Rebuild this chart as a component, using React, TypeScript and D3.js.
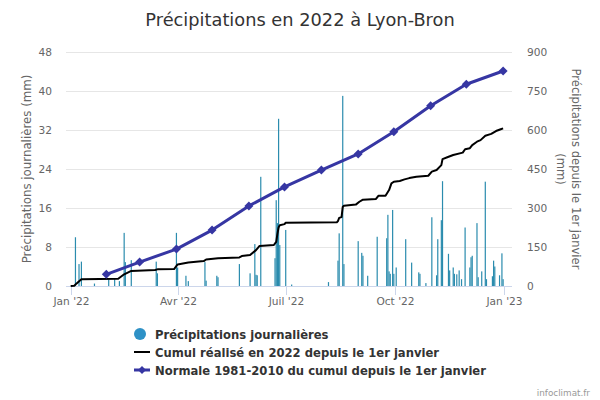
import React from "react";
import * as d3 from "d3";

// ---------- DATA ----------
const dailyDates = [
  "2022-01-05","2022-01-08","2022-01-10","2022-01-21","2022-02-02","2022-02-07","2022-02-11","2022-02-15","2022-02-16","2022-02-21",
  "2022-03-14","2022-03-15","2022-03-31","2022-04-01","2022-04-08","2022-04-10","2022-04-24","2022-04-25","2022-05-04","2022-05-05",
  "2022-05-23","2022-06-01","2022-06-05","2022-06-06","2022-06-07","2022-06-10","2022-06-22","2022-06-23","2022-06-24","2022-06-25",
  "2022-06-26","2022-07-01","2022-07-06","2022-08-06","2022-08-14","2022-08-15","2022-08-18","2022-08-19","2022-08-31","2022-09-03",
  "2022-09-04","2022-09-08","2022-09-16","2022-09-24","2022-09-25","2022-09-26","2022-09-27","2022-09-29","2022-09-30","2022-10-02",
  "2022-10-10","2022-10-15","2022-10-21","2022-10-22","2022-10-27","2022-11-01","2022-11-05","2022-11-06","2022-11-09","2022-11-10",
  "2022-11-15","2022-11-16","2022-11-19","2022-11-20","2022-11-22","2022-11-24","2022-11-26","2022-11-29","2022-12-03","2022-12-04",
  "2022-12-05","2022-12-09","2022-12-10","2022-12-13","2022-12-16","2022-12-17","2022-12-22","2022-12-23","2022-12-24","2022-12-28",
  "2022-12-30","2022-12-31",
];
const dailyValues = [
  10.0,4.5,5.0,0.5,1.4,1.4,1.0,10.9,4.9,5.3,
  5.0,2.6,10.9,3.8,2.1,1.0,4.9,1.1,2.1,1.8,
  4.5,2.6,8.6,2.3,2.2,22.4,5.7,17.6,12.9,34.3,
  8.4,11.5,0.3,0.8,5.2,10.8,39.0,4.5,9.2,6.8,
  6.2,2.1,10.1,9.8,14.6,3.0,2.5,15.6,2.5,3.8,
  9.6,4.8,2.8,2.5,0.6,14.1,2.2,9.6,13.5,21.5,
  6.6,3.2,3.8,2.5,2.4,3.2,1.4,12.0,3.8,5.9,
  6.2,12.9,1.8,3.0,21.4,1.4,2.0,5.2,4.0,2.2,
  6.7,1.4,
];

const cumulDates = [
  "2022-01-01","2022-01-04","2022-01-06","2022-01-10","2022-02-10","2022-02-15","2022-02-21","2022-03-13","2022-03-15","2022-03-29",
  "2022-04-01","2022-04-10","2022-04-23","2022-04-25","2022-05-05","2022-05-23","2022-05-25","2022-06-01","2022-06-06","2022-06-09",
  "2022-06-21","2022-06-23","2022-06-24","2022-06-25","2022-06-26","2022-06-30","2022-07-01","2022-08-13","2022-08-14","2022-08-15",
  "2022-08-17","2022-08-18","2022-08-19","2022-08-29","2022-09-01","2022-09-04","2022-09-15","2022-09-17","2022-09-23","2022-09-26",
  "2022-09-28","2022-09-30","2022-10-05","2022-10-09","2022-10-13","2022-10-19","2022-10-29","2022-11-01","2022-11-05","2022-11-09",
  "2022-11-10","2022-11-14","2022-11-19","2022-11-27","2022-11-29","2022-12-03","2022-12-05","2022-12-09","2022-12-12","2022-12-16",
  "2022-12-21","2022-12-25","2022-12-29","2022-12-31",
];
const cumulValues = [
  0,1,10,26,28,45,58,61.5,64,65,
  83,90,96,102,106.5,110,115,119,138,154,
  157.7,170,200,225,234,238,243.5,245,250,262,
  265,304,309,313,324,332,335,347,347,369,
  395,401,404,410,415,420,424,440,446,465,
  488,495,504,513,526,530,542,555,561,578,
  585,596,603,606.5,
];

const normalDates = [
  "2022-01-31","2022-02-28","2022-03-31","2022-04-30","2022-05-31","2022-06-30",
  "2022-07-31","2022-08-31","2022-09-30","2022-10-31","2022-11-30","2022-12-31",
];
const normalValues = [45, 92, 142, 215, 308, 381, 446, 508, 593, 693, 776, 827];

const leftTicks = [0, 8, 16, 24, 32, 40, 48];
const rightTicks = [0, 150, 300, 450, 600, 750, 900];
const xTickDates = ["2022-01-01", "2022-04-01", "2022-07-01", "2022-10-01", "2023-01-01"];
const xTickLabels = ["Jan '22", "Avr '22", "Juil '22", "Oct '22", "Jan '23"];

const titleText = "Précipitations en 2022 à Lyon-Bron";
const leftAxisTitle = "Précipitations journalières (mm)";
const rightAxisTitle = ["Précipitations depuis le 1er janvier", "(mm)"];
const legendLabels = [
  "Précipitations journalières",
  "Cumul réalisé en 2022 depuis le 1er janvier",
  "Normale 1981-2010 du cumul depuis le 1er janvier",
];
const creditText = "infoclimat.fr";

// ---------- LAYOUT ----------
const W = 600;
const H = 400;
const plotLeft = 66;
const plotRight = 512;
const plotTop = 52;
const plotBottom = 286;
const FONT = "'DejaVu Sans', Verdana, sans-serif";
const BAR_COLOR = "#2b8cae";
const LEGEND_DOT = "#2e91c6";
const NORMAL_COLOR = "#3636a3";

const parse = d3.utcParse("%Y-%m-%d");

export default function App() {
  const x = d3
    .scaleUtc()
    .domain([parse("2022-01-01")!, parse("2023-01-01")!])
    .range([70.7, 504.3]);
  const yL = d3.scaleLinear().domain([0, 48]).range([plotBottom, plotTop]);
  const yR = d3.scaleLinear().domain([0, 900]).range([plotBottom, plotTop]);

  const cumul = cumulDates.map((d, i) => [parse(d)!, cumulValues[i]] as [Date, number]);
  const normal = normalDates.map((d, i) => [parse(d)!, normalValues[i]] as [Date, number]);

  const line = d3
    .line<[Date, number]>()
    .x((d) => x(d[0]))
    .y((d) => yR(d[1]));

  const diamond = (cx: number, cy: number, r: number) =>
    `M${cx},${cy - r}L${cx + r},${cy}L${cx},${cy + r}L${cx - r},${cy}Z`;

  const legendY = [334, 352, 370];

  return (
    <svg
      width={W}
      height={H}
      style={{ position: "absolute", left: 0, top: 0, background: "#fff" }}
      fontFamily={FONT}
    >
      <rect width={W} height={H} fill="#fff" />
      <text x={300} y={26} textAnchor="middle" fontSize={17.8} fill="#333">
        {titleText}
      </text>

      {/* grid */}
      {leftTicks.map((t) => (
        <line
          key={"g" + t}
          x1={plotLeft}
          x2={plotRight}
          y1={Math.round(yL(t)) + 0.5}
          y2={Math.round(yL(t)) + 0.5}
          stroke="#e6e6e6"
          strokeWidth={1}
        />
      ))}
      {/* x axis line */}
      <line x1={plotLeft} x2={plotRight} y1={plotBottom + 0.5} y2={plotBottom + 0.5} stroke="#ccd6eb" />
      {xTickDates.map((d, i) => {
        const xx = Math.round(x(parse(d)!)) + 0.5;
        return (
          <g key={"xt" + i}>
            <line x1={xx} x2={xx} y1={plotBottom} y2={plotBottom + 9} stroke="#ccd6eb" />
            <text x={xx} y={305} textAnchor="middle" fontSize={10.6} fill="#666">
              {xTickLabels[i]}
            </text>
          </g>
        );
      })}

      {/* left ticks */}
      {leftTicks.map((t) => (
        <text key={"lt" + t} x={52} y={yL(t) + 4} textAnchor="end" fontSize={10.6} fill="#666">
          {t}
        </text>
      ))}
      {rightTicks.map((t) => (
        <text key={"rt" + t} x={527} y={yR(t) + 4} textAnchor="start" fontSize={10.6} fill="#666">
          {t}
        </text>
      ))}

      <text
        transform={`translate(27,${(plotTop + plotBottom) / 2}) rotate(-90)`}
        textAnchor="middle"
        dominantBaseline="central"
        fontSize={11.8}
        fill="#666"
      >
        {leftAxisTitle}
      </text>
      <text
        transform={`translate(568,${(plotTop + plotBottom) / 2}) rotate(90)`}
        textAnchor="middle"
        fontSize={11.6}
        fill="#666"
      >
        <tspan x={0} y={-4}>{rightAxisTitle[0]}</tspan>
        <tspan x={0} y={11}>{rightAxisTitle[1]}</tspan>
      </text>

      {/* bars */}
      {dailyDates.map((d, i) => {
        const xx = x(parse(d)!);
        return (
          <rect
            key={"b" + i}
            x={xx - 0.6}
            width={1.2}
            y={yL(dailyValues[i])}
            height={plotBottom - yL(dailyValues[i])}
            fill={BAR_COLOR}
          />
        );
      })}

      {/* cumul */}
      <path d={line(cumul) || ""} fill="none" stroke="#000" strokeWidth={2} strokeLinejoin="round" />

      {/* normal */}
      <path d={line(normal) || ""} fill="none" stroke={NORMAL_COLOR} strokeWidth={3} strokeLinejoin="round" />
      {normal.map((p, i) => (
        <path key={"n" + i} d={diamond(x(p[0]), yR(p[1]), 4.5)} fill={NORMAL_COLOR} />
      ))}

      {/* legend */}
      <circle cx={140} cy={legendY[0]} r={6} fill={LEGEND_DOT} />
      <line x1={134} x2={150} y1={legendY[1]} y2={legendY[1]} stroke="#000" strokeWidth={2} />
      <line x1={134} x2={150} y1={legendY[2]} y2={legendY[2]} stroke={NORMAL_COLOR} strokeWidth={3} />
      <path d={diamond(142, legendY[2], 4)} fill={NORMAL_COLOR} />
      {legendLabels.map((l, i) => (
        <text key={"l" + i} x={155} y={legendY[i] + 4.5} fontSize={11.6} fontWeight="bold" fill="#333">
          {l}
        </text>
      ))}

      <text x={590} y={396} textAnchor="end" fontSize={8.8} fill="#999">
        {creditText}
      </text>
    </svg>
  );
}
